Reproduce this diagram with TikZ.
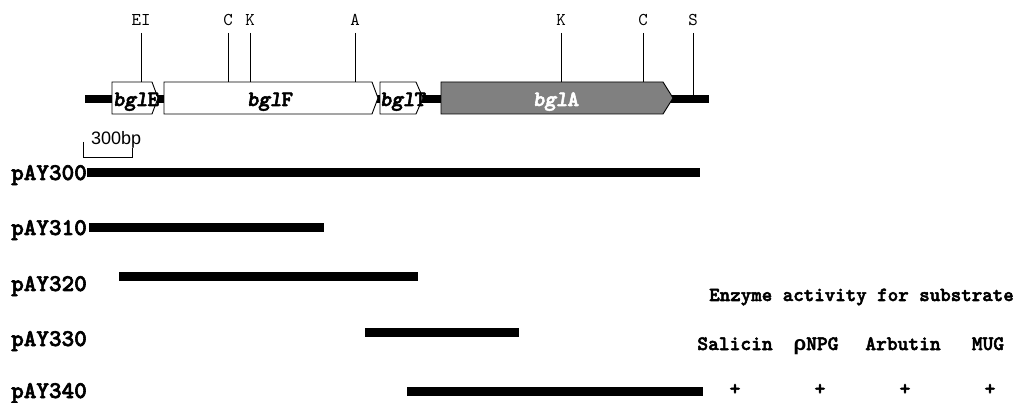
\documentclass[tikz,border=0pt]{standalone}
\usepackage{fontspec}
\setmainfont{Liberation Serif}
% typewriter faces: thin for site names, heavy for labels
\newfontfamily\tw{lmmono10-regular.otf}
\newfontfamily\twb{lmmonolt10-bold.otf}[FakeBold=2.5,ItalicFont=lmmonolt10-boldoblique.otf,ItalicFeatures={FakeBold=2.5}]
\newfontfamily\lsans{Liberation Sans}
\begin{document}
\begin{tikzpicture}[x=1pt,y=-1pt,
  gene/.style={draw=black,line width=0.9pt,fill=white},
  site/.style={line width=0.9pt},
  sitelbl/.style={font=\tw\fontsize{18}{18}\selectfont,anchor=base,inner sep=0},
  genelbl/.style={font=\twb\fontsize{22}{22}\selectfont,anchor=base,inner sep=0},
  clone/.style={line width=9pt},
  clonelbl/.style={font=\twb\fontsize{24}{24}\selectfont,anchor=base west,inner sep=0},
  hdr/.style={font=\twb\fontsize{20}{20}\selectfont,anchor=base,inner sep=0},
  sub/.style={font=\twb\fontsize{20.5}{20.5}\selectfont,anchor=base,inner sep=0}]
\useasboundingbox (0,0) rectangle (1020,403);

% DNA backbone
\coordinate (bbL) at (85,99);
\coordinate (bbR) at (709,99);
\draw[line width=8pt] (bbL) -- (bbR);

% genes (boxes pointing in the direction of transcription)
\draw[gene] (112,82) -- (152,82) -- (158,98) -- (152,114) -- (112,114) -- cycle;
\draw[gene] (164,82) -- (372,82) -- (378,98) -- (372,114) -- (164,114) -- cycle;
\draw[gene] (380,82) -- (416,82) -- (423,98) -- (416,114) -- (380,114) -- cycle;
\draw[gene,fill=gray] (441,82) -- (663,82) -- (673,98) -- (663,114) -- (441,114) -- cycle;

\node[genelbl] (gE) at (136,106) {\itshape bgl\upshape E};
\node[genelbl] (gF) at (270,106) {\itshape bgl\upshape F};
\node[genelbl] (gT) at (403,106) {\itshape bgl\upshape T};
\node[genelbl,text=white] (gA) at (556,106) {\itshape bgl\upshape A};

% restriction sites
\foreach \nm/\x/\lbl/\y in {s1/141/EI/82, s2/228/C/82, s3/250/K/82, s4/355/A/82,
                           s5/561/K/82, s6/643/C/82, s7/693/S/96} {
  \node[sitelbl] (\nm) at (\x,26) {\lbl};
  \coordinate (\nm b) at (\x,\y);
  \draw[site] (\x,33) -- (\nm b);
}

% scale bar
\draw[line width=0.8pt] (83,142) -- (83,157) -- (132,157) -- (132,148);
\node[font=\lsans\fontsize{18}{18}\selectfont,anchor=base west,inner sep=0] (scale) at (91,145) {300bp};

% subclones
\foreach \nm/\ly/\by/\xa/\xb in {pAY300/180/172.5/87/700,
                                 pAY310/235/228/89/324,
                                 pAY320/291/276.5/119/418,
                                 pAY330/346/332.5/365/519,
                                 pAY340/398/391/407/703} {
  \node[clonelbl] (\nm) at (11,\ly) {\nm};
  \coordinate (\nm a) at (\xa,\by);
  \coordinate (\nm b) at (\xb,\by);
  \draw[clone] (\nm a) -- (\nm b);
}

% enzyme activity table
\node[hdr] (head) at (861.5,301) {Enzyme activity for substrate};
\node[sub] (salicin) at (735,350) {Salicin};
\node[sub] (pnpg) at (816,350) {{\lsans\bfseries ρ}NPG};
\node[sub] (arbutin) at (903,350) {Arbutin};
\node[sub] (mug) at (988,350) {MUG};
\node[sub] (p1) at (735,395) {+};
\node[sub] (p2) at (820,395) {+};
\node[sub] (p3) at (905,395) {+};
\node[sub] (p4) at (990,395) {+};
\end{tikzpicture}
\end{document}
